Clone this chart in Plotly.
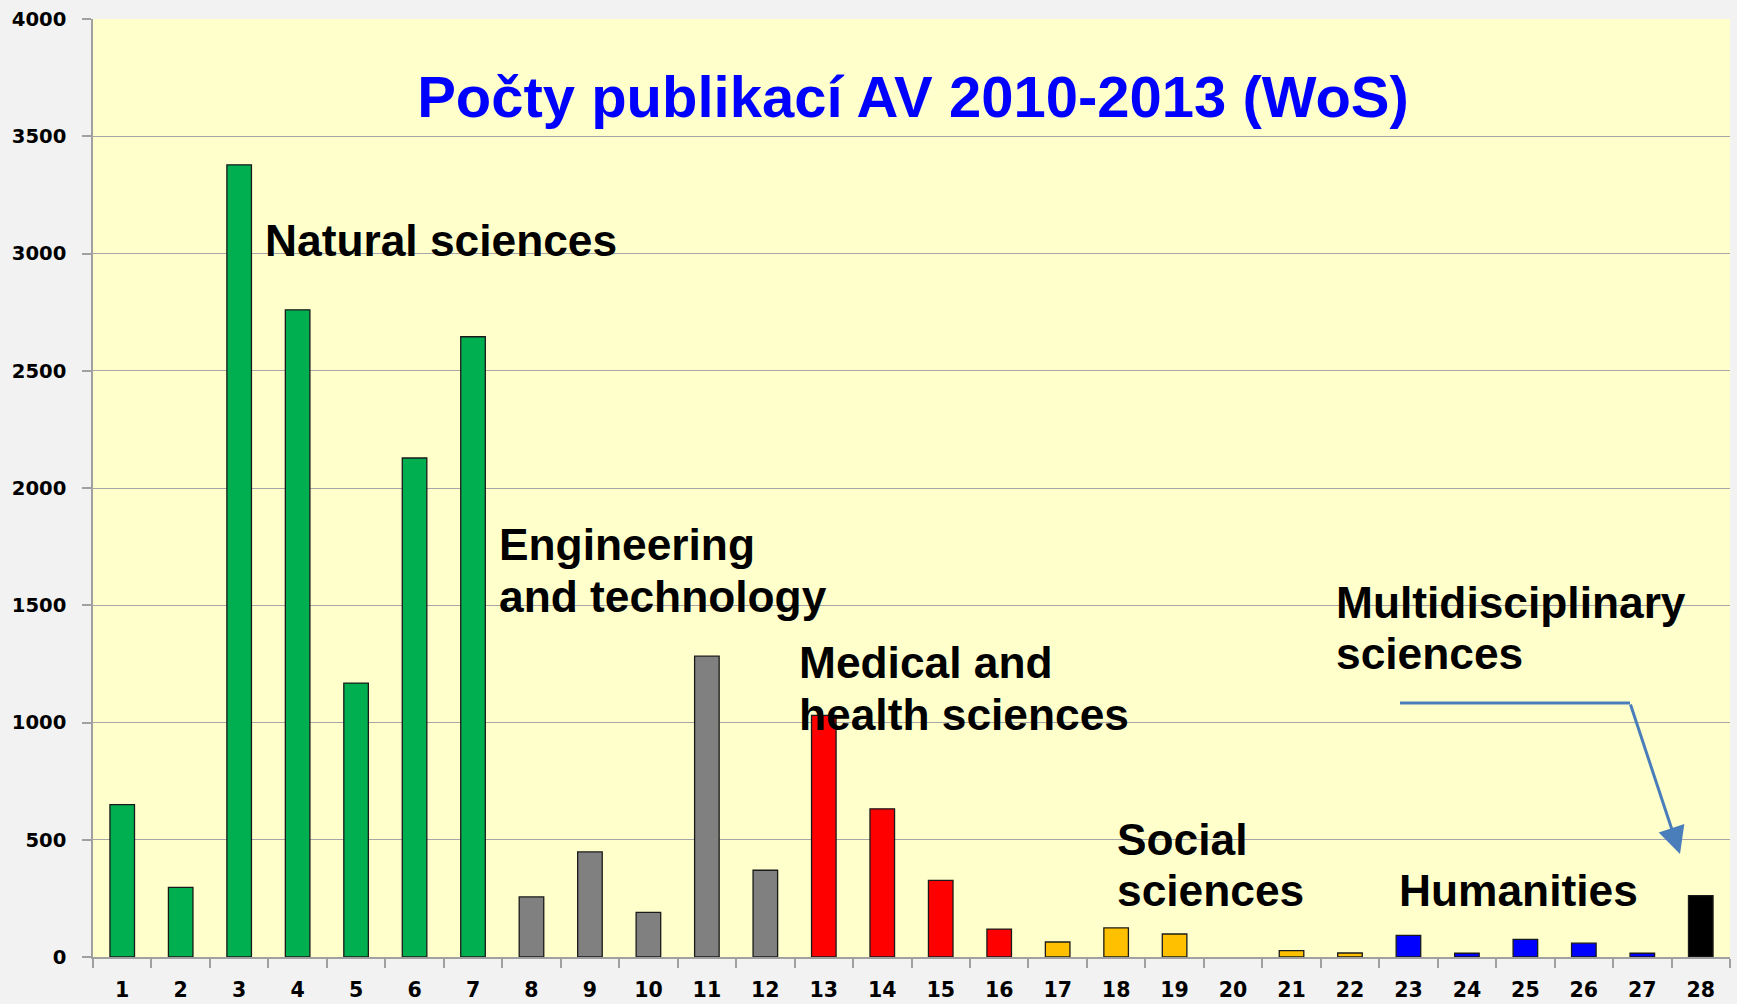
import plotly.graph_objects as go

# ---- data ----
categories = [str(i) for i in range(1, 29)]
values = [650, 297, 3378, 2760, 1168, 2128, 2645,
          256, 448, 190, 1283, 370,
          1030, 632, 327, 119,
          64, 124, 98, 0, 27, 17,
          92, 16, 75, 59, 16,
          262]
groups = (["Natural sciences"] * 7 + ["Engineering and technology"] * 5 +
          ["Medical and health sciences"] * 4 + ["Social sciences"] * 6 +
          ["Humanities"] * 5 + ["Multidisciplinary sciences"])
group_colors = {
    "Natural sciences": "#00B050",
    "Engineering and technology": "#808080",
    "Medical and health sciences": "#FF0000",
    "Social sciences": "#FFC000",
    "Humanities": "#0000FF",
    "Multidisciplinary sciences": "#000000",
}
y_ticks = [0, 500, 1000, 1500, 2000, 2500, 3000, 3500, 4000]
title_text = "Počty publikací AV 2010-2013 (WoS)"

# ---- layout geometry (pixels) ----
W, H = 1737, 1004
L, R, T, B = 93, 7, 19, 47
PW, PH = W - L - R, H - T - B


def px(x):
    return (x - L) / PW


def py(y):
    return (H - B - y) / PH


fig = go.Figure()
fig.add_trace(go.Bar(
    x=categories, y=values,
    marker=dict(color=[group_colors[g] for g in groups],
                line=dict(color="#1A1A1A",
                          width=[1.3 if v > 0 else 0 for v in values])),
    width=0.42,
    showlegend=False,
))

label_font = dict(family="Liberation Sans, Arial, sans-serif", size=44.3,
                  color="#000000", weight="bold")

text_lines = [
    ("Natural sciences", 263, 241),
    ("Engineering", 497, 544),
    ("and technology", 497, 596),
    ("Medical and", 797, 662),
    ("health sciences", 797, 714),
    ("Social", 1115, 839),
    ("sciences", 1115, 890),
    ("Humanities", 1397, 890),
    ("Multidisciplinary", 1334, 602),
    ("sciences", 1334, 653),
]
for txt, x, y in text_lines:
    fig.add_annotation(text=txt, xref="paper", yref="paper",
                       x=px(x), y=py(y), xanchor="left", yanchor="middle",
                       showarrow=False, font=label_font)

arrow_col = "#4A7EBB"
fig.add_shape(type="path", xref="paper", yref="paper",
              path=f"M {px(1400)} {py(703)} L {px(1630)} {py(703)}",
              line=dict(color=arrow_col, width=3))
fig.add_annotation(xref="paper", yref="paper", x=px(1680), y=py(854),
                   ax=-50, ay=-151, axref="pixel", ayref="pixel",
                   text="", showarrow=True, arrowhead=2, arrowsize=1.8,
                   arrowwidth=3, arrowcolor=arrow_col)

fig.update_layout(
    width=W, height=H,
    margin=dict(l=L, r=R, t=T, b=B, autoexpand=False),
    paper_bgcolor="#F2F2F2",
    plot_bgcolor="#FFFFCC",
    title=dict(text=title_text, xref="paper", x=px(913), xanchor="center",
               yref="container", y=1 - 97 / H, yanchor="middle",
               font=dict(family="Liberation Sans, Arial, sans-serif", size=58,
                         color="#0000FF", weight="bold")),
    bargap=0.58,
)
fig.update_xaxes(type="category", showline=True, linecolor="#A0A0A0",
                 linewidth=1.5, ticks="outside", tickson="boundaries",
                 ticklen=9, tickcolor="#A0A0A0", tickwidth=1.5,
                 showgrid=False, automargin=False,
                 tickfont=dict(family="DejaVu Sans", size=20.5, color="#000000",
                               weight="bold"),
                 ticklabelstandoff=14)
fig.update_yaxes(range=[0, 4000], tickvals=y_ticks,
                 showline=True, linecolor="#A0A0A0", linewidth=1.5,
                 ticks="outside", ticklen=9, tickcolor="#A0A0A0", tickwidth=1.5,
                 showgrid=True, gridcolor="#A6A6A6", gridwidth=1.2,
                 zeroline=False, automargin=False,
                 tickfont=dict(family="DejaVu Sans", size=19.6, color="#000000",
                               weight="bold"),
                 ticklabelstandoff=12)

fig.write_html(
    "out.html",
    config={"displayModeBar": False},
    post_script="document.body.style.margin='0';"
                "document.body.style.background='#F2F2F2';",
)
